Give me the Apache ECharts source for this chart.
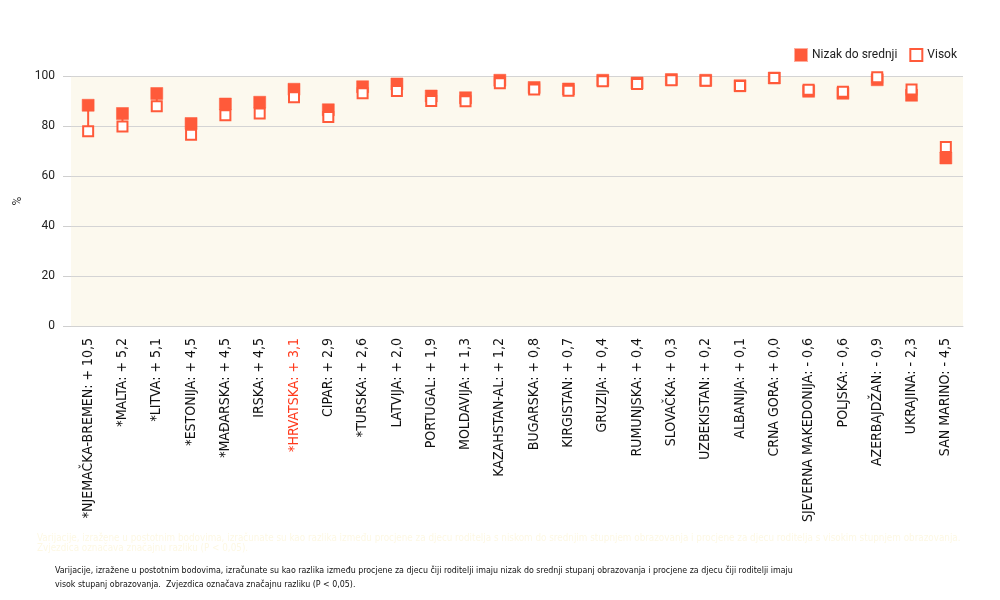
<!DOCTYPE html>
<html>
<head>
<meta charset="utf-8">
<script src="https://cdn.jsdelivr.net/npm/echarts@6/dist/echarts.min.js"></script>
<style>html,body{margin:0;padding:0;background:#fff;}#c{width:1000px;height:600px;}</style>
</head>
<body>
<div id="c"></div>
<script>
const categories = ["*NJEMAČKA-BREMEN: + 10,5", "*MALTA: + 5,2", "*LITVA: + 5,1", "*ESTONIJA: + 4,5", "*MAĐARSKA: + 4,5", "IRSKA: + 4,5", "*HRVATSKA: + 3,1", "CIPAR: + 2,9", "*TURSKA: + 2,6", "LATVIJA: + 2,0", "PORTUGAL: + 1,9", "MOLDAVIJA: + 1,3", "KAZAHSTAN-AL: + 1,2", "BUGARSKA: + 0,8", "KIRGISTAN: + 0,7", "GRUZIJA: + 0,4", "RUMUNJSKA: + 0,4", "SLOVAČKA: + 0,3", "UZBEKISTAN: + 0,2", "ALBANIJA: + 0,1", "CRNA GORA: + 0,0", "SJEVERNA MAKEDONIJA: - 0,6", "POLJSKA: - 0,6", "AZERBAJDŽAN: - 0,9", "UKRAJINA: - 2,3", "SAN MARINO: - 4,5"];
const lowMid = [88.3, 85.0, 93.0, 81.0, 88.8, 89.5, 94.7, 86.5, 95.7, 96.8, 92.0, 91.3, 98.3, 95.4, 94.8, 98.3, 97.2, 98.6, 98.3, 96.1, 99.2, 93.9, 93.1, 98.5, 92.3, 67.2];
const high = [77.9, 79.8, 87.9, 76.5, 84.3, 85.0, 91.5, 83.6, 93.1, 94.0, 90.0, 89.9, 97.1, 94.6, 94.1, 97.9, 96.8, 98.3, 98.1, 96.0, 99.2, 94.5, 93.7, 99.5, 94.6, 71.6];
const yTicks = [0, 20, 40, 60, 80, 100];
const seriesNames = ["Nizak do srednji", "Visok"];
const highlight = "*HRVATSKA: + 3,1";

const ORANGE = '#ff5a3a';
const chart = echarts.init(document.getElementById('c'));
const narrow = '"Liberation Sans Narrow", "DejaVu Sans Condensed", "Arial Narrow", sans-serif';

chart.setOption({
  backgroundColor: '#ffffff',
  animation: false,
  grid: { left: 71, right: 37, top: 76, bottom: 274, backgroundColor: '#fcf9ee', show: true, borderWidth: 0 },
  legend: {
    right: 38, top: 43, itemWidth: 12, itemHeight: 12, itemGap: 12,
    textStyle: { fontSize: 12, color: '#222', fontFamily: 'Roboto, Arial, sans-serif' },
    data: [
      { name: seriesNames[0], icon: 'rect' },
      { name: seriesNames[1], icon: 'rect' }
    ]
  },
  xAxis: {
    type: 'category', data: categories, boundaryGap: true,
    axisLine: { show: true, lineStyle: { color: '#d2d2d2' } },
    axisTick: { show: false },
    axisLabel: {
      rotate: 90, interval: 0, margin: 12, fontSize: 14, fontFamily: narrow,
      color: function (v) { return v === highlight ? '#ff3a1c' : '#111'; }
    }
  },
  yAxis: {
    type: 'value', min: yTicks[0], max: yTicks[yTicks.length - 1], interval: 20,
    name: '%', nameLocation: 'middle', nameGap: 45, nameRotate: 90,
    nameTextStyle: { fontSize: 12, color: '#333', fontFamily: 'Roboto, Arial, sans-serif' },
    axisLine: { show: false },
    axisTick: { show: true, length: 8, lineStyle: { color: '#cfcfcf' } },
    axisLabel: { fontSize: 12, color: '#222', margin: 16, fontFamily: 'Roboto, Arial, sans-serif' },
    splitLine: { lineStyle: { color: '#d4d4d4', width: 1 } }
  },
  series: [
    {
      type: 'custom', name: 'conn', silent: true, z: 1,
      renderItem: function (params, api) {
        const a = api.coord([api.value(0), api.value(1)]);
        const b = api.coord([api.value(0), api.value(2)]);
        return { type: 'line', shape: { x1: a[0], y1: a[1], x2: b[0], y2: b[1] }, style: { stroke: ORANGE, lineWidth: 2 } };
      },
      data: categories.map((c, i) => [i, lowMid[i], high[i]])
    },
    {
      name: seriesNames[0], type: 'scatter', symbol: 'rect', symbolSize: 12, z: 3,
      itemStyle: { color: ORANGE, borderColor: 'rgba(255,90,58,0.5)', borderWidth: 1, opacity: 1 },
      data: lowMid
    },
    {
      name: seriesNames[1], type: 'scatter', symbol: 'rect', symbolSize: 10, z: 4,
      itemStyle: { color: '#ffffff', borderColor: ORANGE, borderWidth: 2, opacity: 1 },
      data: high
    }
  ],
  graphic: [
    {
      type: 'text', left: 37, top: 533,
      style: {
        text: 'Varijacije, izražene u postotnim bodovima, izračunate su kao razlika između procjene za djecu roditelja s niskom do srednjim stupnjem obrazovanja i procjene za djecu roditelja s visokim stupnjem obrazovanja.\nZvjezdica označava značajnu razliku (P < 0,05).',
        fontSize: 9.8, lineHeight: 10, fill: '#fdf8e4', fontFamily: narrow
      }
    },
    {
      type: 'text', left: 55, top: 564,
      style: {
        text: 'Varijacije, izražene u postotnim bodovima, izračunate su kao razlika između procjene za djecu čiji roditelji imaju nizak do srednji stupanj obrazovanja i procjene za djecu čiji roditelji imaju\nvisok stupanj obrazovanja.  Zvjezdica označava značajnu razliku (P < 0,05).',
        fontSize: 8.8, lineHeight: 14, fill: '#111', fontFamily: narrow
      }
    }
  ]
});
</script>
</body>
</html>
